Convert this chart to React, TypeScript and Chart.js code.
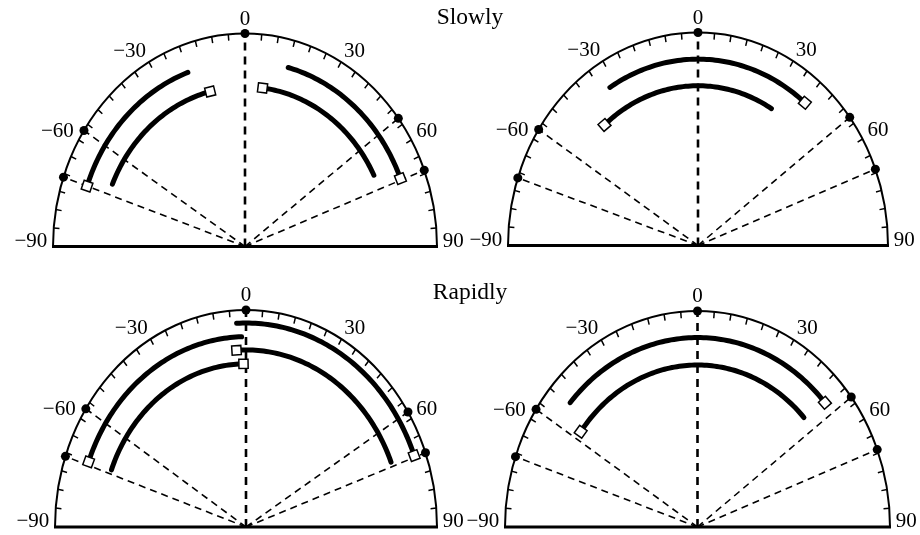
import React, { useEffect, useRef } from "react";
import { Chart, registerables } from "chart.js";

Chart.register(...registerables);

// ---- axis ----
const tickAngles = [-90, -60, -30, 0, 30, 60, 90];
const tickLabels = ["\u221290", "\u221260", "\u221230", "0", "30", "60", "90"];
const minorTickStep = 5;

// ---- titles ----
const titleTop = "Slowly";
const titleBottom = "Rapidly";

// ---- Slowly, left panel ----
const slowLeftDots = [-57, -71, 53, 69];
const slowLeftArcRadius = [0.87, 0.75, 0.87, 0.75];
const slowLeftArcStart = [-20, -14, 15, 7];
const slowLeftArcEnd = [-71, -67, 68.5, 63.5];
const slowLeftSquareRadius = [0.87, 0.75, 0.87, 0.75];
const slowLeftSquareAngle = [-71, -14, 68.5, 7];

// ---- Slowly, right panel ----
const slowRightDots = [-57, -71.5, 53, 69];
const slowRightArcRadius = [0.875, 0.75];
const slowRightArcStart = [-32, -41];
const slowRightArcEnd = [40, 31];
const slowRightSquareRadius = [0.875, 0.75];
const slowRightSquareAngle = [40, -41];

// ---- Rapidly, left panel ----
const rapidLeftDots = [-57, -71, 58, 70];
const rapidLeftArcRadius = [0.877, 0.94, 0.816, 0.752];
const rapidLeftArcStart = [-1.5, -3, -3.5, -1];
const rapidLeftArcEnd = [-70, 69.5, 68.5, -69.5];
const rapidLeftSquareRadius = [0.877, 0.94, 0.816, 0.752];
const rapidLeftSquareAngle = [-70, 69.5, -3.5, -1];

// ---- Rapidly, right panel ----
const rapidRightDots = [-57, -71, 53, 69];
const rapidRightArcRadius = [0.877, 0.75];
const rapidRightArcStart = [-49, -54];
const rapidRightArcEnd = [49, 47.5];
const rapidRightSquareRadius = [0.877, 0.75];
const rapidRightSquareAngle = [49, -54];

const DEG = Math.PI / 180;
const FONT_FAMILY = "'Liberation Serif', 'DejaVu Serif', 'Times New Roman', serif";

type PanelData = {
  dots: number[];
  arcR: number[];
  arcS: number[];
  arcE: number[];
  sqR: number[];
  sqA: number[];
};

type Geometry = { cx: number; by: number; rx: number; ry: number };

const polar = (r: number, a: number) => ({ x: r * Math.sin(a * DEG), y: r * Math.cos(a * DEG) });

function arcPoints(r: number, a0: number, a1: number) {
  const n = Math.max(2, Math.ceil(Math.abs(a1 - a0)));
  const pts: { x: number; y: number }[] = [];
  for (let i = 0; i <= n; i++) {
    const a = a0 + ((a1 - a0) * i) / n;
    pts.push(polar(r, a));
  }
  return pts;
}

const framePlugin = {
  id: "semicircleFrame",
  beforeDatasetsDraw(chart: any) {
    const { ctx } = chart;
    const xs = chart.scales.x;
    const ys = chart.scales.y;
    const px = (r: number, a: number) => xs.getPixelForValue(r * Math.sin(a * DEG));
    const py = (r: number, a: number) => ys.getPixelForValue(r * Math.cos(a * DEG));
    const cx = xs.getPixelForValue(0);
    const cy = ys.getPixelForValue(0);
    const rx = xs.getPixelForValue(1) - cx;
    const ry = cy - ys.getPixelForValue(1);
    ctx.save();
    ctx.strokeStyle = "#000";
    ctx.fillStyle = "#000";
    ctx.lineWidth = 2;
    ctx.beginPath();
    ctx.ellipse(cx, cy, rx, ry, 0, Math.PI, 2 * Math.PI);
    ctx.stroke();
    ctx.lineWidth = 3;
    ctx.beginPath();
    ctx.moveTo(cx - rx - 1, cy);
    ctx.lineTo(cx + rx + 1, cy);
    ctx.stroke();
    ctx.lineWidth = 1.5;
    ctx.beginPath();
    for (let a = -90 + minorTickStep; a < 90; a += minorTickStep) {
      if (a === 0) continue;
      ctx.moveTo(px(1, a), py(1, a));
      ctx.lineTo(px(0.97, a), py(0.97, a));
    }
    ctx.stroke();
    ctx.font = `21px ${FONT_FAMILY}`;
    ctx.textBaseline = "middle";
    tickAngles.forEach((a, i) => {
      const lbl = tickLabels[i];
      if (a === 0) {
        ctx.textAlign = "center";
        ctx.fillText(lbl, px(0, 0), ys.getPixelForValue(1.068));
      } else {
        ctx.textAlign = a < 0 ? "right" : "left";
        const x = xs.getPixelForValue(1.03 * Math.sin(a * DEG));
        const y = ys.getPixelForValue(1.03 * Math.cos(a * DEG) + 0.025);
        ctx.fillText(lbl, x, y);
      }
    });
    ctx.restore();
  },
};

function buildDatasets(d: PanelData) {
  const ds: any[] = [];
  ds.push({
    data: d.sqA.map((a, i) => polar(d.sqR[i], a)),
    pointStyle: "rect",
    pointRadius: 6.5,
    pointRotation: d.sqA.map((a) => a),
    pointBackgroundColor: "#fff",
    pointBorderColor: "#000",
    pointBorderWidth: 1.5,
    showLine: false,
    order: 0,
  });
  ds.push({
    data: [0, ...d.dots].map((a) => polar(1, a)),
    pointStyle: "circle",
    pointRadius: 4.5,
    pointBackgroundColor: "#000",
    pointBorderColor: "#000",
    pointBorderWidth: 0,
    showLine: false,
    order: 1,
  });
  d.arcR.forEach((r, i) => {
    ds.push({
      data: arcPoints(r, d.arcS[i], d.arcE[i]),
      showLine: true,
      borderColor: "#000",
      borderWidth: 5,
      borderCapStyle: "round",
      borderJoinStyle: "round",
      pointRadius: 0,
      tension: 0,
      order: 2,
    });
  });
  ds.push({
    data: [polar(0, 0), polar(1, 0)],
    showLine: true,
    borderColor: "#000",
    borderWidth: 2.6,
    borderDash: [8, 6],
    pointRadius: 0,
    order: 3,
  });
  d.dots.forEach((a) => {
    ds.push({
      data: [polar(0, 0), polar(1, a)],
      showLine: true,
      borderColor: "#000",
      borderWidth: 1.6,
      borderDash: [7, 5],
      pointRadius: 0,
      order: 3,
    });
  });
  return ds;
}

function Panel({ data, geo }: { data: PanelData; geo: Geometry }) {
  const ref = useRef<HTMLCanvasElement | null>(null);
  const left = Math.round(geo.cx - 1.3 * geo.rx);
  const width = Math.round(2.6 * geo.rx);
  const top = Math.round(geo.by - 1.2 * geo.ry);
  const height = Math.round(1.27 * geo.ry);
  const xmin = (left - geo.cx) / geo.rx;
  const xmax = (left + width - geo.cx) / geo.rx;
  const ymax = (geo.by - top) / geo.ry;
  const ymin = (geo.by - (top + height)) / geo.ry;

  useEffect(() => {
    if (!ref.current) return;
    const chart = new Chart(ref.current, {
      type: "scatter",
      data: { datasets: buildDatasets(data) },
      options: {
        animation: false,
        responsive: false,
        events: [],
        layout: { padding: 0, autoPadding: false },
        plugins: { legend: { display: false }, tooltip: { enabled: false }, title: { display: false } },
        scales: {
          x: { type: "linear", min: xmin, max: xmax, display: false },
          y: { type: "linear", min: ymin, max: ymax, display: false },
        },
        elements: { line: { fill: false } },
      } as any,
      plugins: [framePlugin],
    });
    return () => chart.destroy();
  }, []);

  return (
    <canvas
      ref={ref}
      width={width}
      height={height}
      style={{ position: "absolute", left, top, width, height }}
    />
  );
}

const titleStyle = (top: number): React.CSSProperties => ({
  position: "absolute",
  left: 370,
  width: 200,
  top,
  textAlign: "center",
  fontFamily: FONT_FAMILY,
  fontSize: 23.5,
  lineHeight: "23.5px",
  color: "#000",
});

export default function App() {
  const panels: { data: PanelData; geo: Geometry }[] = [
    {
      data: { dots: slowLeftDots, arcR: slowLeftArcRadius, arcS: slowLeftArcStart, arcE: slowLeftArcEnd, sqR: slowLeftSquareRadius, sqA: slowLeftSquareAngle },
      geo: { cx: 245, by: 246.5, rx: 192, ry: 213 },
    },
    {
      data: { dots: slowRightDots, arcR: slowRightArcRadius, arcS: slowRightArcStart, arcE: slowRightArcEnd, sqR: slowRightSquareRadius, sqA: slowRightSquareAngle },
      geo: { cx: 698, by: 245.5, rx: 190, ry: 213 },
    },
    {
      data: { dots: rapidLeftDots, arcR: rapidLeftArcRadius, arcS: rapidLeftArcStart, arcE: rapidLeftArcEnd, sqR: rapidLeftSquareRadius, sqA: rapidLeftSquareAngle },
      geo: { cx: 246, by: 527, rx: 191, ry: 217 },
    },
    {
      data: { dots: rapidRightDots, arcR: rapidRightArcRadius, arcS: rapidRightArcStart, arcE: rapidRightArcEnd, sqR: rapidRightSquareRadius, sqA: rapidRightSquareAngle },
      geo: { cx: 697.5, by: 527, rx: 192.5, ry: 216 },
    },
  ];
  return (
    <div style={{ position: "absolute", left: 0, top: 0, width: 920, height: 535, background: "#fff", overflow: "hidden" }}>
      {panels.map((p, i) => (
        <Panel key={i} data={p.data} geo={p.geo} />
      ))}
      <div style={titleStyle(5)}>{titleTop}</div>
      <div style={titleStyle(280)}>{titleBottom}</div>
    </div>
  );
}
